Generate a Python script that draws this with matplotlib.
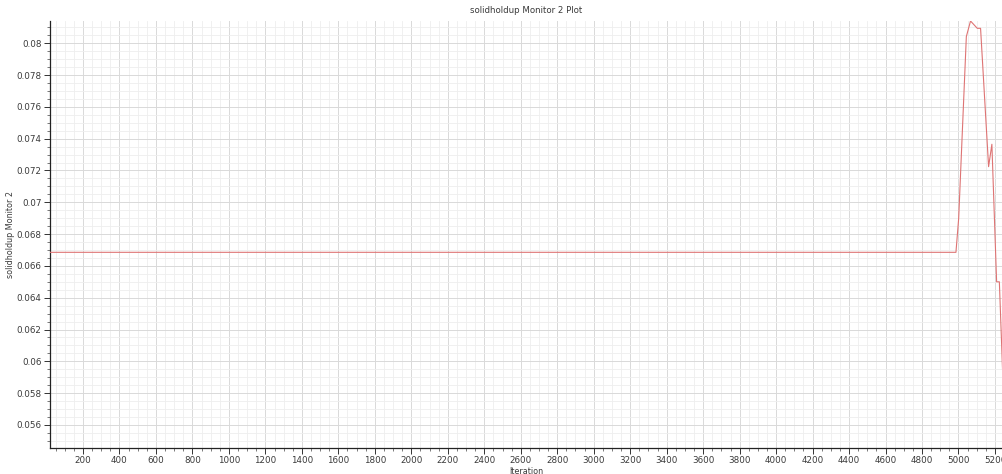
import matplotlib
matplotlib.use("Agg")
import matplotlib.pyplot as plt
from matplotlib.ticker import MultipleLocator, FuncFormatter

# Monitor history: solid holdup vs iteration
iterations = [19, 4986, 5001, 5043, 5066, 5103, 5121, 5165, 5183, 5209, 5224, 5244]
holdup = [0.066855, 0.066855, 0.06899, 0.08042, 0.0814, 0.08094, 0.08094,
          0.07224, 0.07365, 0.0650, 0.0650, 0.0587]

title = "solidholdup Monitor 2 Plot"
x_label = "Iteration"
y_label = "solidholdup Monitor 2"

fig = plt.figure(figsize=(10.03, 4.74), dpi=100)
ax = fig.add_axes([50 / 1003, 1 - 448 / 474, 1 - 50 / 1003, (448 - 21) / 474])

ax.plot(iterations, holdup, color="#de7474", lw=0.8, zorder=3)

ax.set_xlim(19, 5244)
ax.set_ylim(0.05455, 0.0814)

ax.xaxis.set_major_locator(MultipleLocator(200))
ax.xaxis.set_minor_locator(MultipleLocator(50))
ax.yaxis.set_major_locator(MultipleLocator(0.002))
ax.yaxis.set_minor_locator(MultipleLocator(0.0005))

def fmt_y(v, pos):
    return f"{v:.3f}".rstrip("0")

ax.yaxis.set_major_formatter(FuncFormatter(fmt_y))
ax.xaxis.set_major_formatter(FuncFormatter(lambda v, p: f"{int(round(v))}"))

ax.grid(which="major", color="#d9d9d9", lw=0.7, zorder=0)
ax.grid(which="minor", color="#eeeeee", lw=0.6, zorder=0)
ax.set_axisbelow(True)

for side in ("top", "right"):
    ax.spines[side].set_visible(False)
for side in ("left", "bottom"):
    ax.spines[side].set_color("#222222")
    ax.spines[side].set_linewidth(0.9)

ax.tick_params(which="major", direction="out", length=4, width=0.7,
               colors="#333333", labelsize=6.3, labelcolor="#3a3a3a", pad=2)
ax.tick_params(which="minor", direction="out", length=2, width=0.5, colors="#444444")

ax.set_title(title, fontsize=6.2, color="#3a3a3a", pad=6)
ax.set_xlabel(x_label, fontsize=5.8, color="#3a3a3a", labelpad=1)
ax.set_ylabel(y_label, fontsize=5.8, color="#3a3a3a", labelpad=1)

fig.savefig("out.png", dpi=100)
